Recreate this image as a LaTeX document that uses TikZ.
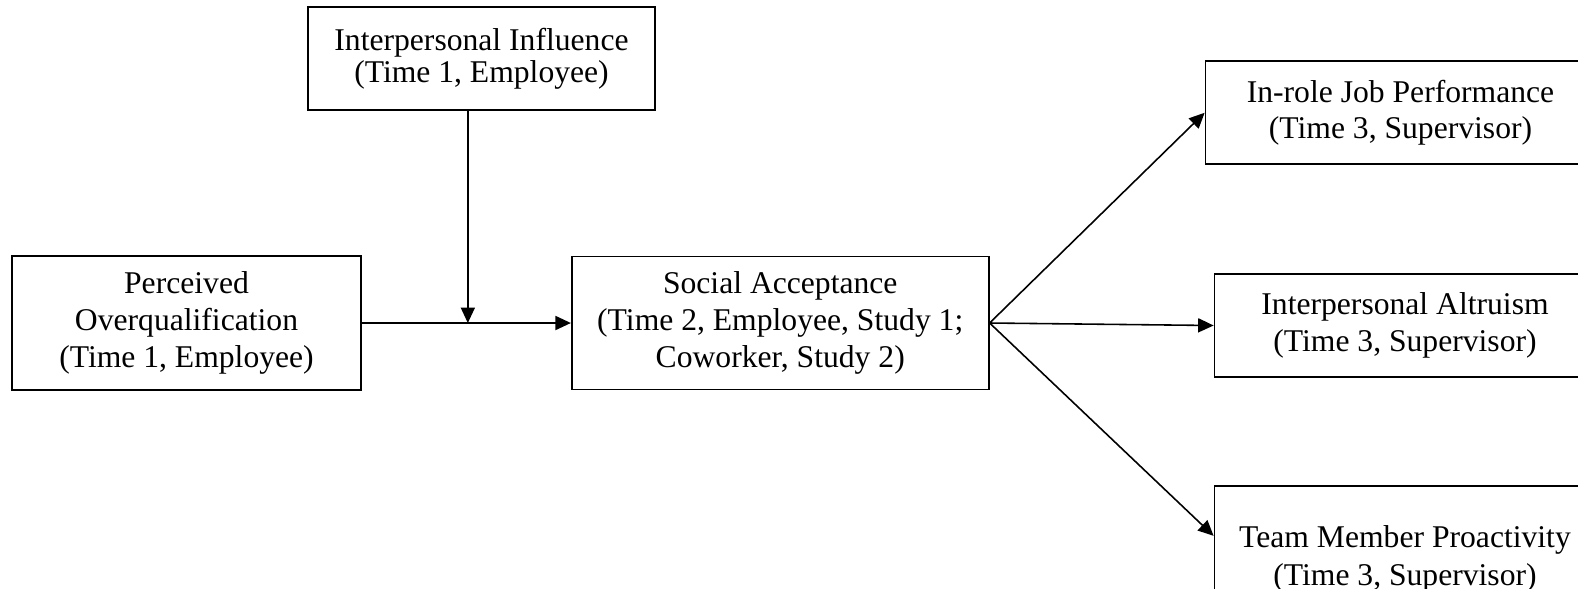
\documentclass[tikz,border=0pt]{standalone}
\usepackage{fontspec}
\setmainfont{Liberation Serif}
\usepackage{tikz}
\usetikzlibrary{arrows.meta, positioning, shapes}
\tikzstyle{box} = [draw, rectangle, line width=0.5pt, inner sep=0pt, align=center, minimum height=1.03cm, font=\fontsize{9pt}{10.6pt}\selectfont]
\tikzstyle{arrow} = [line width=0.45pt, -{Triangle[length=4.4pt, width=4pt]}]

\begin{document}
\begin{tikzpicture}
  \useasboundingbox (0,0) rectangle (15.78,-5.88);
  % Nodes
  \node (percv) [box, minimum width=3.49cm, minimum height=1.34cm] at (1.865,-3.23) {Perceived\\Overqualification\\(Time 1, Employee)};
  \node (infl) [box, minimum width=3.47cm, font=\fontsize{9pt}{9.1pt}\selectfont] at (4.815,-0.585) {Interpersonal Influence\\(Time 1, Employee)};
  \node (soc) [box, minimum width=4.17cm, minimum height=1.33cm, right=2.09cm of percv] {Social Acceptance\\(Time 2, Employee, Study 1;\\Coworker, Study 2)};
  \node (altru) [box, minimum width=3.81cm, right=2.24cm of soc, yshift=-0.025cm] {Interpersonal Altruism\\(Time 3, Supervisor)};
  \node (inrole) [box, minimum width=3.90cm, above=1.08cm of altru, xshift=-0.045cm, font=\fontsize{9pt}{10pt}\selectfont] {In-role Job Performance\\(Time 3, Supervisor)};
  \node (team) [box, minimum width=3.81cm, minimum height=1.46cm, below=1.07cm of altru] {Team Member Proactivity\\(Time 3, Supervisor)};
  \coordinate (teamin) at ([yshift=-0.51cm]team.north west);

  % Arrows
  \draw[arrow] (percv) -- coordinate[pos=0.507] (join) (soc);
  \draw[arrow] (infl.south -| join) -- (join);
  \draw[arrow] (soc.east) -- (inrole.west);
  \draw[arrow] (soc.east) -- (altru.west);
  \draw[arrow] (soc.east) -- (teamin);
\end{tikzpicture}
\end{document}
